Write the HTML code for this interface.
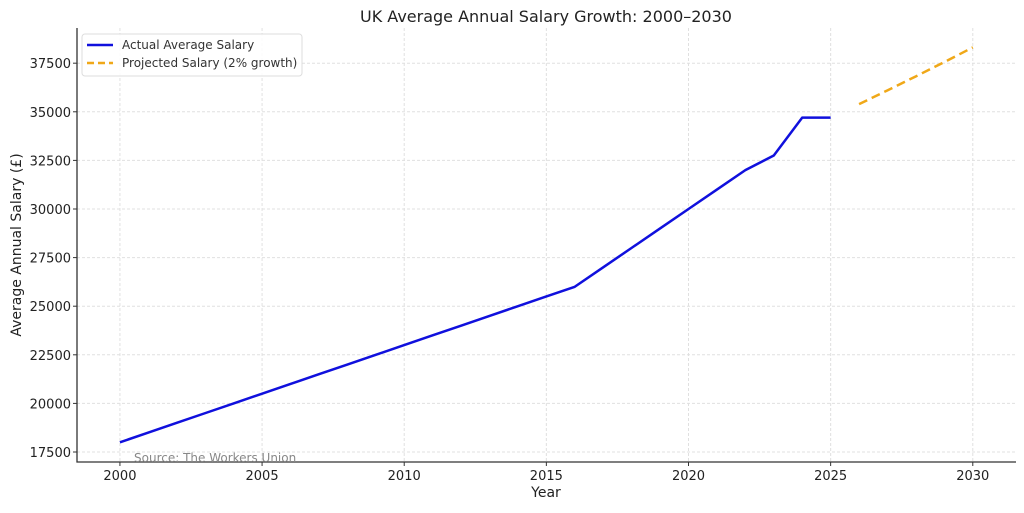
<!DOCTYPE html>
<html><head><meta charset="utf-8"><style>
body{margin:0;background:#fff;font-family:"Liberation Sans","DejaVu Sans",sans-serif}
svg text{font-family:"DejaVu Sans","Liberation Sans",sans-serif}
</style></head><body>
<svg id="chart" width="1024" height="508">
<text x="546" y="22" text-anchor="middle" font-size="16" fill="#222">UK Average Annual Salary Growth: 2000–2030</text>
<g id="grid"></g><g id="axes"></g><g id="series"></g>
<text x="546" y="497" text-anchor="middle" font-size="14" fill="#222">Year</text>
<text transform="translate(21,245) rotate(-90)" text-anchor="middle" font-size="14" fill="#222">Average Annual Salary (£)</text>
<text x="134" y="462" font-size="12" fill="#888">Source: The Workers Union</text>
<g>
<rect x="82" y="34" width="220" height="42" rx="3" fill="#fff" fill-opacity="0.85" stroke="#ddd"/>
<line x1="87" y1="45" x2="113" y2="45" stroke="#1010dd" stroke-width="2.5"/>
<text x="122" y="49" font-size="12" fill="#333">Actual Average Salary</text>
<line x1="87" y1="63" x2="113" y2="63" stroke="#f0a818" stroke-width="2.5" stroke-dasharray="7,4"/>
<text x="122" y="67" font-size="12" fill="#333">Projected Salary (2% growth)</text>
</g>
</svg>
<script>
const actualYears=[2000,2001,2002,2003,2004,2005,2006,2007,2008,2009,2010,2011,2012,2013,2014,2015,2016,2017,2018,2019,2020,2021,2022,2023,2024,2025];
const actualSalary=[18000,18500,19000,19500,20000,20500,21000,21500,22000,22500,23000,23500,24000,24500,25000,25500,26000,27000,28000,29000,30000,31000,32000,32750,34700,34700];
const projYears=[2026,2027,2028,2029,2030];
const projSalary=[35394,36102,36824,37560,38311];
const xTicks=[2000,2005,2010,2015,2020,2025,2030];
const yTicks=[17500,20000,22500,25000,27500,30000,32500,35000,37500];
const L=77,R=1016,T=28,B=462,X0=1998.49,X1=2031.52,Y0=16986,Y1=39310;
const sx=v=>L+(v-X0)/(X1-X0)*(R-L), sy=v=>B-(v-Y0)/(Y1-Y0)*(B-T);
const NS="http://www.w3.org/2000/svg";
function mk(tag,attrs,parent,txt){const e=document.createElementNS(NS,tag);for(const k in attrs)e.setAttribute(k,attrs[k]);if(txt!=null)e.textContent=txt;parent.appendChild(e);return e;}
const grid=document.getElementById('grid'),axes=document.getElementById('axes'),series=document.getElementById('series');
xTicks.forEach(t=>{
 const g=mk('line',{x1:sx(t),x2:sx(t),y1:T,y2:B,stroke:'#e0e0e0','stroke-dasharray':'3,2'},grid);
 
 
 const tk=mk('line',{x1:sx(t),x2:sx(t),y1:B,y2:B+4,stroke:'#333'},axes);
 
 
 const l=mk('text',{x:sx(t),y:B+18,'text-anchor':'middle','font-size':13,fill:'#222'},axes,t);
 
 
});
yTicks.forEach(t=>{
 const g=mk('line',{x1:L,x2:R,y1:sy(t),y2:sy(t),stroke:'#e0e0e0','stroke-dasharray':'3,2'},grid);
 
 
 const tk=mk('line',{x1:L-4,x2:L,y1:sy(t),y2:sy(t),stroke:'#333'},axes);
 
 
 const l=mk('text',{x:L-6,y:sy(t)+5,'text-anchor':'end','font-size':13,fill:'#222'},axes,t);
 
 
});
const ax=mk('path',{d:`M${L},${T}V${B}H${R}`,fill:'none',stroke:'#333','stroke-width':1.3},axes);


const a=mk('polyline',{points:actualYears.map((y,i)=>sx(y)+','+sy(actualSalary[i])).join(' '),fill:'none',stroke:'#1010dd','stroke-width':2.5,'stroke-linejoin':'round'},series);


const p=mk('polyline',{points:projYears.map((y,i)=>sx(y)+','+sy(projSalary[i])).join(' '),fill:'none',stroke:'#f0a818','stroke-width':2.5,'stroke-dasharray':'9,5'},series);


</script>
</body></html>
